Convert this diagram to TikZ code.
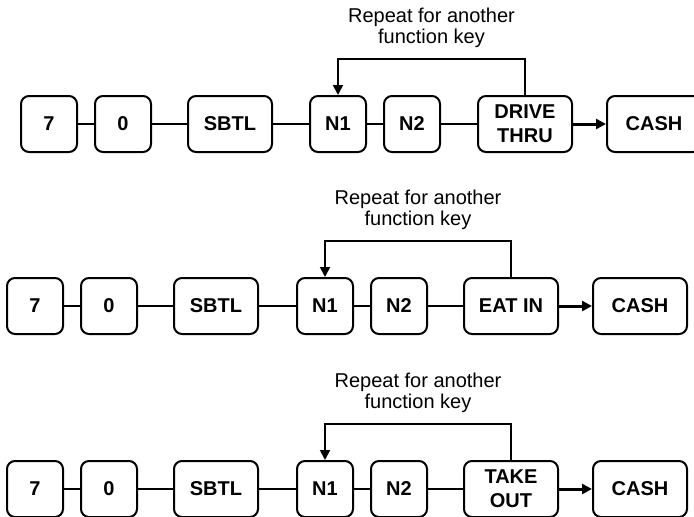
\documentclass[tikz,border=0pt]{standalone}
\usepackage{fontspec}
\setmainfont{Liberation Sans}
\usetikzlibrary{positioning, arrows.meta}
\tikzset{
  %% register key (rounded box)
  key/.style={
    rectangle, rounded corners=8pt,
    draw, line width=2pt, fill=white,
    minimum width=56pt, minimum height=56pt,
    inner sep=2pt, align=center,
    font=\fontsize{20}{24}\selectfont\bfseries
  },
  keyW/.style={key, minimum width=84pt},   % SBTL
  keyF/.style={key, minimum width=94pt},   % function keys, CASH
  %% plain connector between keys
  lnk/.style={line width=1.6pt},
  %% arrow into CASH
  arrK/.style={
    -{Triangle[length=10pt,width=10pt]},
    line width=3pt
  },
  %% repeat loop arrow
  arrL/.style={
    -{Triangle[length=10pt,width=10pt]},
    line width=1.8pt
  },
  rpt/.style={
    font=\fontsize{20}{21}\selectfont,
    align=center, inner sep=1pt
  }
}

\begin{document}
\begin{tikzpicture}[x=1pt, y=-1pt]

\useasboundingbox (0,0) rectangle (694,517);

%% ═══════════════════════════════════════════════════════════
%%  ROW 1  —  DRIVE THRU
%% ═══════════════════════════════════════════════════════════

\node[key]  (sevenA) at (49, 124)  {7};
\node[key]  (zeroA)  at (123, 124) {0};
\node[keyW] (sbtlA)  at (230, 124) {SBTL};
\node[key]  (nOneA)  at (338, 124) {N1};
\node[key]  (nTwoA)  at (412, 124) {N2};
\node[keyF] (funcA)  at (525, 124) {DRIVE\\THRU};
\node[keyF] (cashA)  at (654, 124) {CASH};

\draw[lnk] (sevenA) -- (zeroA);
\draw[lnk] (zeroA) -- (sbtlA);
\draw[lnk] (sbtlA) -- (nOneA);
\draw[lnk] (nOneA) -- (nTwoA);
\draw[lnk] (nTwoA) -- (funcA);
\draw[arrK] (funcA) -- (cashA);

\draw[arrL] (funcA.north) -- ++(0,-36) -|
  node[rpt, pos=0.25, above=9pt] (rptA) {Repeat for another\\function key}
  (nOneA.north);

%% ═══════════════════════════════════════════════════════════
%%  ROW 2  —  EAT IN
%% ═══════════════════════════════════════════════════════════

\node[key]  (sevenB) at (35, 306)  {7};
\node[key]  (zeroB)  at (109, 306) {0};
\node[keyW] (sbtlB)  at (216, 306) {SBTL};
\node[key]  (nOneB)  at (325, 306) {N1};
\node[key]  (nTwoB)  at (399, 306) {N2};
\node[keyF] (funcB)  at (511, 306) {EAT IN};
\node[keyF] (cashB)  at (640, 306) {CASH};

\draw[lnk] (sevenB) -- (zeroB);
\draw[lnk] (zeroB) -- (sbtlB);
\draw[lnk] (sbtlB) -- (nOneB);
\draw[lnk] (nOneB) -- (nTwoB);
\draw[lnk] (nTwoB) -- (funcB);
\draw[arrK] (funcB) -- (cashB);

\draw[arrL] (funcB.north) -- ++(0,-36) -|
  node[rpt, pos=0.25, above=9pt] (rptB) {Repeat for another\\function key}
  (nOneB.north);

%% ═══════════════════════════════════════════════════════════
%%  ROW 3  —  TAKE OUT
%% ═══════════════════════════════════════════════════════════

\node[key]  (sevenC) at (35, 489)  {7};
\node[key]  (zeroC)  at (109, 489) {0};
\node[keyW] (sbtlC)  at (216, 489) {SBTL};
\node[key]  (nOneC)  at (325, 489) {N1};
\node[key]  (nTwoC)  at (399, 489) {N2};
\node[keyF] (funcC)  at (511, 489) {TAKE\\OUT};
\node[keyF] (cashC)  at (640, 489) {CASH};

\draw[lnk] (sevenC) -- (zeroC);
\draw[lnk] (zeroC) -- (sbtlC);
\draw[lnk] (sbtlC) -- (nOneC);
\draw[lnk] (nOneC) -- (nTwoC);
\draw[lnk] (nTwoC) -- (funcC);
\draw[arrK] (funcC) -- (cashC);

\draw[arrL] (funcC.north) -- ++(0,-36) -|
  node[rpt, pos=0.25, above=9pt] (rptC) {Repeat for another\\function key}
  (nOneC.north);

\end{tikzpicture}
\end{document}
